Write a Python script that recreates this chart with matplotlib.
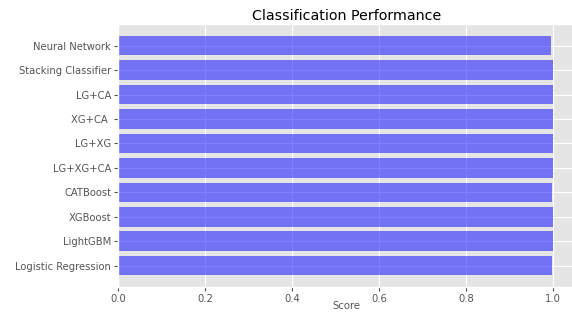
import matplotlib
matplotlib.use("Agg")
import matplotlib.pyplot as plt

plt.style.use("ggplot")

models = ["Logistic Regression", "LightGBM", "XGBoost", "CATBoost", "LG+XG+CA",
          "LG+XG", "XG+CA ", "LG+CA", "Stacking Classifier", "Neural Network"]
scores = [0.998, 1.0, 1.0, 0.998, 1.0, 1.0, 1.0, 1.0, 1.0, 0.995]

fig = plt.figure(figsize=(5.72, 3.12), dpi=100)
ax = fig.add_axes([0.2063, 0.0788, 0.7989, 0.8446])
ax.barh(models, scores, color="blue", alpha=0.5, height=0.8)
ax.set_xlabel("Score", fontsize=7.3, color="#555555", va="center")
ax.xaxis.set_label_coords(0.5, -0.072)
ax.set_title("Classification Performance", fontsize=10.3, pad=3)
ax.tick_params(axis="y", labelsize=7.2, colors="#555555", pad=2, length=3)
ax.tick_params(axis="x", labelsize=7.2, colors="#555555", pad=1.5, length=3)
fig.savefig("out.png", dpi=100)
